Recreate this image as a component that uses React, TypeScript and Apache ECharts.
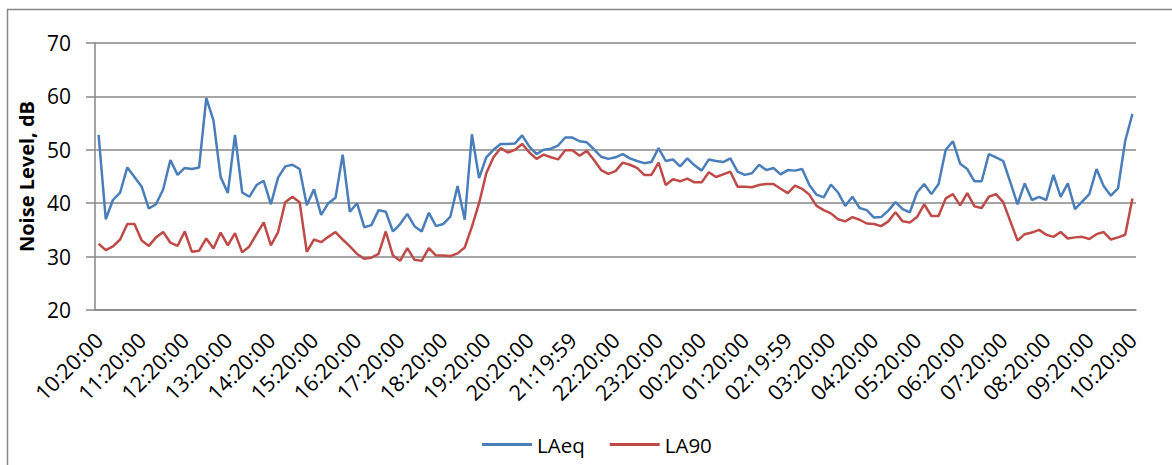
import React, { useEffect, useRef } from "react";
import * as echarts from "echarts";

const tickLabels = [
  "10:20:00", "11:20:00", "12:20:00", "13:20:00", "14:20:00", "15:20:00", "16:20:00",
  "17:20:00", "18:20:00", "19:20:00", "20:20:00", "21:19:59", "22:20:00", "23:20:00",
  "00:20:00", "01:20:00", "02:19:59", "03:20:00", "04:20:00", "05:20:00", "06:20:00",
  "07:20:00", "08:20:00", "09:20:00", "10:20:00",
];

const laeq = [
  52.8, 37.0, 40.6, 42.0, 46.7, 44.9, 43.1, 39.0, 39.8, 42.6,
  48.1, 45.3, 46.6, 46.4, 46.7, 59.7, 55.5, 44.9, 41.9, 52.8,
  42.0, 41.2, 43.4, 44.2, 39.8, 44.8, 46.9, 47.2, 46.4, 39.6,
  42.6, 37.8, 40.0, 41.0, 49.1, 38.4, 40.0, 35.5, 35.9, 38.7,
  38.4, 34.7, 36.1, 38.0, 35.7, 34.7, 38.2, 35.7, 36.1, 37.5,
  43.2, 36.9, 52.9, 44.7, 48.6, 50.0, 51.1, 51.1, 51.2, 52.7,
  50.6, 49.2, 50.0, 50.2, 50.8, 52.3, 52.3, 51.6, 51.4, 50.1,
  48.7, 48.3, 48.6, 49.2, 48.4, 47.9, 47.5, 47.7, 50.3, 47.9,
  48.2, 46.9, 48.4, 47.1, 46.1, 48.2, 47.9, 47.7, 48.4, 45.9,
  45.3, 45.6, 47.2, 46.2, 46.6, 45.4, 46.2, 46.1, 46.4, 43.4,
  41.6, 41.1, 43.5, 42.0, 39.5, 41.2, 39.1, 38.7, 37.3, 37.4,
  38.6, 40.2, 38.9, 38.3, 42.0, 43.6, 41.7, 43.6, 50.0, 51.6,
  47.4, 46.4, 44.1, 44.1, 49.2, 48.6, 47.9, 43.9, 39.8, 43.7,
  40.6, 41.2, 40.6, 45.3, 41.2, 43.7, 38.9, 40.3, 41.7, 46.4,
  43.2, 41.4, 42.8, 51.7, 56.7,
];

const la90 = [
  32.4, 31.2, 31.9, 33.2, 36.1, 36.1, 33.0, 32.0, 33.6, 34.6,
  32.6, 32.0, 34.7, 30.9, 31.1, 33.4, 31.5, 34.5, 32.1, 34.4,
  30.8, 31.9, 34.2, 36.4, 32.1, 34.6, 40.2, 41.2, 40.2, 30.9,
  33.2, 32.7, 33.7, 34.6, 33.2, 31.9, 30.5, 29.6, 29.8, 30.5,
  34.7, 30.2, 29.2, 31.6, 29.4, 29.2, 31.6, 30.2, 30.2, 30.1,
  30.6, 31.7, 35.6, 40.0, 45.6, 48.6, 50.3, 49.5, 50.0, 51.1,
  49.5, 48.3, 49.1, 48.6, 48.2, 49.9, 49.9, 48.9, 49.8, 48.1,
  46.2, 45.5, 46.0, 47.6, 47.2, 46.6, 45.3, 45.3, 47.6, 43.4,
  44.5, 44.1, 44.6, 43.9, 43.9, 45.8, 44.9, 45.4, 45.9, 43.1,
  43.1, 43.0, 43.4, 43.6, 43.6, 42.7, 41.9, 43.3, 42.7, 41.6,
  39.5, 38.7, 38.1, 37.0, 36.6, 37.4, 36.9, 36.2, 36.1, 35.7,
  36.6, 38.3, 36.6, 36.4, 37.4, 39.8, 37.6, 37.6, 40.9, 41.7,
  39.6, 41.9, 39.4, 39.1, 41.2, 41.7, 40.2, 36.6, 33.0, 34.2,
  34.5, 35.0, 34.1, 33.7, 34.6, 33.4, 33.6, 33.7, 33.3, 34.2,
  34.6, 33.2, 33.6, 34.1, 40.9,
];

const STEP = 6;
const categories = laeq.map((_, i) => {
  if (i % STEP === 0) return tickLabels[i / STEP];
  const base = tickLabels[Math.floor(i / STEP)];
  const hh = base.slice(0, 2);
  const mm = 20 + (i % STEP) * 10;
  const h = (parseInt(hh, 10) + Math.floor(mm / 60)) % 24;
  return `${String(h).padStart(2, "0")}:${String(mm % 60).padStart(2, "0")}:00`;
});

const FONT = "'Open Sans', 'Liberation Sans', sans-serif";
const GRID = "#878787";

export default function App() {
  const ref = useRef<HTMLDivElement>(null);
  useEffect(() => {
    if (!ref.current) return;
    const chart = echarts.init(ref.current, undefined, { renderer: "svg" });
    chart.setOption({
      animation: false,
      backgroundColor: "#ffffff",
      textStyle: { fontFamily: FONT },
      graphic: [
        {
          type: "rect",
          shape: { x: 7.5, y: 9.5, width: 1200, height: 500 },
          style: { fill: "none", stroke: GRID, lineWidth: 1.5 },
          silent: true,
        },
      ],
      grid: { left: 95, right: 36, top: 43, bottom: 155 },
      legend: {
        left: 477,
        top: 429,
        icon: "rect",
        itemWidth: 50,
        itemHeight: 3,
        itemGap: 25,
        textStyle: { fontFamily: FONT, fontSize: 20.5, color: "#000" },
        data: ["LAeq", "LA90"],
      },
      xAxis: {
        type: "category",
        data: categories,
        boundaryGap: true,
        axisLine: { lineStyle: { color: GRID, width: 1.5 } },
        axisTick: { interval: STEP - 1, length: 8, lineStyle: { color: GRID, width: 1.5 } },
        axisLabel: {
          interval: STEP - 1,
          rotate: 45,
          margin: 26,
          fontFamily: FONT,
          fontSize: 21.5,
          color: "#000",
        },
        splitLine: { show: false },
      },
      yAxis: {
        type: "value",
        min: 20,
        max: 70,
        interval: 10,
        name: "Noise Level, dB",
        nameLocation: "middle",
        nameGap: 58,
        nameTextStyle: { fontFamily: FONT, fontSize: 20, fontWeight: "bold", color: "#000" },
        axisLine: { show: true, lineStyle: { color: GRID, width: 1.5 } },
        axisTick: { show: true, length: 9, lineStyle: { color: GRID, width: 1.5 } },
        axisLabel: { margin: 24, fontFamily: FONT, fontSize: 21, color: "#000" },
        splitLine: { lineStyle: { color: GRID, width: 1.5 } },
      },
      series: [
        {
          name: "LAeq",
          type: "line",
          data: laeq,
          symbol: "none",
          showSymbol: false,
          itemStyle: { color: "#4A7EBB" },
          lineStyle: { color: "#4A7EBB", width: 2.5 },
        },
        {
          name: "LA90",
          type: "line",
          data: la90,
          symbol: "none",
          showSymbol: false,
          itemStyle: { color: "#BE4B48" },
          lineStyle: { color: "#BE4B48", width: 2.5 },
        },
      ],
    });
    return () => chart.dispose();
  }, []);
  return (
    <div
      ref={ref}
      style={{ position: "fixed", left: 0, top: 0, width: 1172, height: 465 }}
    />
  );
}
